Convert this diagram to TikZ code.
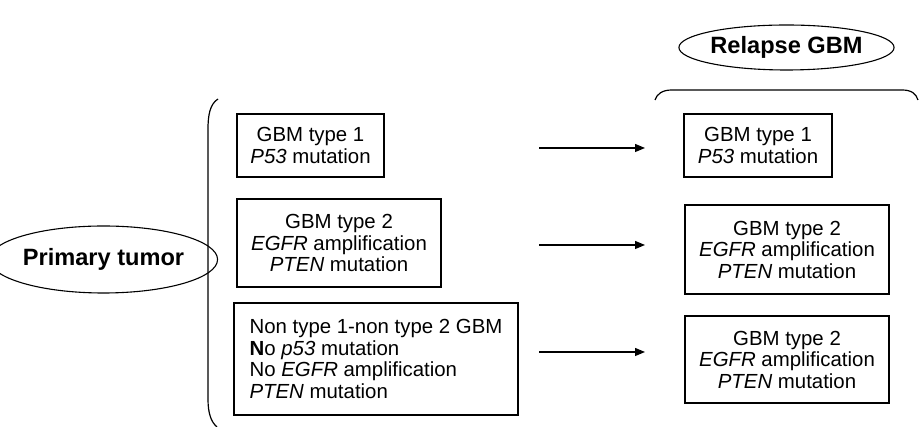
\documentclass[tikz,border=0pt]{standalone}
\usepackage{fontspec}
\setmainfont{Liberation Sans}
\usetikzlibrary{arrows.meta,shapes.geometric}
\begin{document}
\begin{tikzpicture}[x=1pt,y=1pt,
  txt/.style={font=\fontsize{20.4}{21.5}\selectfont},
  gbox/.style={draw,line width=1.1pt,txt,align=center,inner sep=0pt},
  lbox/.style={draw,line width=1.1pt,txt,align=left,inner sep=0pt},
  oval/.style={draw,ellipse,line width=1.1pt,inner sep=0pt,font=\fontsize{23.6}{24}\selectfont\bfseries},
  arr/.style={line width=1.2pt,-{Triangle[length=10pt,width=8pt]}},
  brk/.style={line width=1.2pt}
]
\useasboundingbox (0,0) rectangle (923,427);
\fill[white] (0,0) rectangle (923,427);

% ovals
\node[oval,minimum width=183pt,minimum height=67pt] (prim) at (103.5,167.5) {Primary tumor};
\node[oval,minimum width=185pt,minimum height=45pt] (rel) at (786.5,379.5) {Relapse GBM};

% primary boxes
\node[gbox,minimum width=147pt,minimum height=63pt] (b1) at (310.5,281.5) {GBM type 1\\\textit{P53} mutation};
\node[gbox,minimum width=204pt,minimum height=88pt] (b2) at (339,184) {GBM type 2\\\textit{EGFR} amplification\\\textit{PTEN} mutation};
\node[lbox,minimum width=284pt,minimum height=112pt] (b3) at (376,68) {Non type 1-non type 2 GBM\\\textbf{N}o \textit{p53} mutation\\No \textit{EGFR} amplification\\\textit{PTEN} mutation};

% relapse boxes
\node[gbox,minimum width=148pt,minimum height=63pt] (r1) at (758,281.5) {GBM type 1\\\textit{P53} mutation};
\node[gbox,minimum width=204pt,minimum height=89pt] (r2) at (787,177.5) {GBM type 2\\\textit{EGFR} amplification\\\textit{PTEN} mutation};
\node[gbox,minimum width=204pt,minimum height=87pt] (r3) at (787,67.5) {GBM type 2\\\textit{EGFR} amplification\\\textit{PTEN} mutation};

% arrows
\coordinate (a1s) at (539,279);
\coordinate (a1e) at (645,279);
\coordinate (a2s) at (539,182);
\coordinate (a2e) at (645,182);
\coordinate (a3s) at (539,75);
\coordinate (a3e) at (645,75);
\draw[arr] (a1s) -- (a1e);
\draw[arr] (a2s) -- (a2e);
\draw[arr] (a3s) -- (a3e);

% left bracket
\coordinate (lbt) at (218,328);
\coordinate (lbb) at (217,0);
\draw[brk] (lbt) .. controls (210,323) and (208,312) .. (208,298) -- (208,28) .. controls (208,14) and (211,5) .. (lbb);

% right bracket
\coordinate (rbl) at (655,327);
\coordinate (rbr) at (918,327);
\draw[brk] (rbl) .. controls (657,333) and (662,337) .. (672,337) -- (902,337) .. controls (912,337) and (916,333) .. (rbr);
\end{tikzpicture}
\end{document}
